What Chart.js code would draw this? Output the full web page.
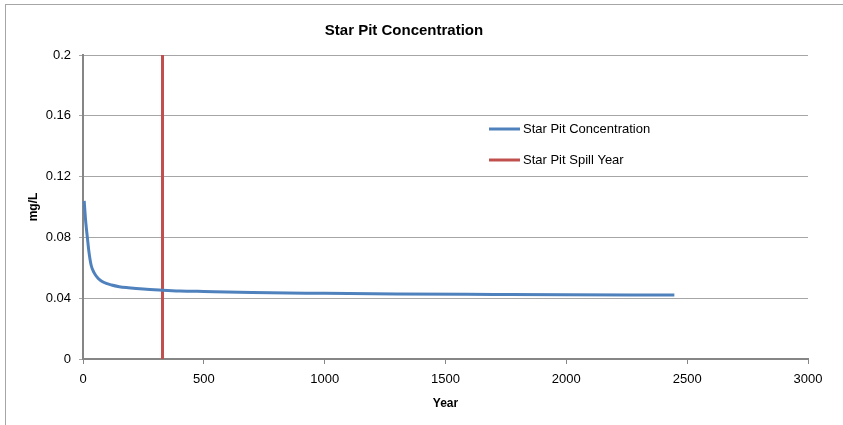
<!DOCTYPE html>
<html>
<head>
<meta charset="utf-8">
<script src="https://cdn.jsdelivr.net/npm/chart.js@4.4.1/dist/chart.umd.min.js"></script>
<style>
  html, body { margin: 0; padding: 0; background: #fff; overflow: hidden; }
  #frame { position: absolute; left: 5px; top: 4px; width: 900px; height: 500px;
           border-left: 1px solid #a6a6a6; border-top: 1px solid #a6a6a6; }
  #wrap { position: absolute; left: 0; top: 0; width: 843px; height: 425px; }
</style>
</head>
<body>
<div id="frame"></div>
<div id="wrap"><canvas id="chart" width="843" height="425"></canvas></div>
<script>
// Star Pit concentration over time
const years = [5, 8, 12, 18, 25, 34, 45, 63, 85, 118, 150, 187, 250, 329, 400, 500, 700, 1000, 1300, 1700, 2000, 2447];
const concentration = [0.104, 0.097, 0.089, 0.080, 0.070, 0.0615, 0.057, 0.053, 0.0505, 0.0487, 0.0476, 0.0469, 0.0460, 0.0453, 0.0448, 0.0444, 0.0437, 0.0432, 0.0428, 0.0425, 0.0423, 0.0421];
const spillYear = 329;
const spillRange = [0, 0.2];
const seriesNames = ['Star Pit Concentration', 'Star Pit Spill Year'];
const yTickLabels = ['0', '0.04', '0.08', '0.12', '0.16', '0.2'];

const FONT = 'Liberation Sans, Arial, sans-serif';
const BLUE = '#4f81bd';
const RED = '#c0504d';

// legend drawn inside the plot, like the Excel original
const legendInside = {
  id: 'legendInside',
  afterDraw(chart) {
    const ctx = chart.ctx;
    ctx.save();
    ctx.font = '13px ' + FONT;
    ctx.textBaseline = 'middle';
    ctx.fillStyle = '#000';
    const rows = [129, 160];
    chart.data.datasets.forEach((ds, i) => {
      const y = rows[i];
      ctx.strokeStyle = ds.borderColor;
      ctx.lineWidth = 3;
      ctx.beginPath();
      ctx.moveTo(489, y);
      ctx.lineTo(520, y);
      ctx.stroke();
      ctx.fillText(ds.label, 523, y);
    });
    ctx.restore();
  }
};

new Chart(document.getElementById('chart'), {
  type: 'scatter',
  data: {
    datasets: [{
      label: seriesNames[0],
      data: years.map((x, i) => ({ x: x, y: concentration[i] })),
      showLine: true,
      borderColor: BLUE,
      borderWidth: 3,
      pointRadius: 0,
      cubicInterpolationMode: 'monotone'
    }, {
      label: seriesNames[1],
      data: spillRange.map(v => ({ x: spillYear, y: v })),
      showLine: true,
      borderColor: RED,
      borderWidth: 3,
      pointRadius: 0
    }]
  },
  options: {
    responsive: false,
    animation: false,
    layout: { padding: { top: 22, left: 0, right: 35, bottom: 0 } },
    plugins: {
      legend: { display: false },
      tooltip: { enabled: false },
      title: {
        display: true,
        text: 'Star Pit Concentration',
        color: '#000',
        font: { family: FONT, size: 15, weight: 'bold' },
        padding: { top: 0, bottom: 15 }
      }
    },
    scales: {
      x: {
        type: 'linear',
        min: 0,
        max: 3000,
        afterFit(scale) { scale.height = 66; },
        ticks: { stepSize: 500, color: '#000', font: { family: FONT, size: 13 }, padding: 8,
                 callback: v => String(v) },
        grid: { drawOnChartArea: false, drawTicks: true, tickLength: 5, color: '#868686' },
        border: { color: '#868686', width: 2 },
        title: { display: true, text: 'Year', color: '#000', font: { family: FONT, size: 12, weight: 'bold' }, padding: { top: 0, bottom: 14 } }
      },
      y: {
        min: 0,
        max: 0.2,
        afterFit(scale) { scale.width = 83; },
        ticks: { stepSize: 0.04, color: '#000', font: { family: FONT, size: 13 }, padding: 8,
                 callback: (v, i) => yTickLabels[i] },
        grid: { color: '#a6a6a6', lineWidth: 1, tickLength: 4, drawTicks: true },
        border: { color: '#868686', width: 2 },
        title: { display: true, text: 'mg/L', color: '#000', font: { family: FONT, size: 12, weight: 'bold' }, padding: { top: 26, bottom: 0 } }
      }
    }
  },
  plugins: [legendInside]
});
</script>
</body>
</html>
